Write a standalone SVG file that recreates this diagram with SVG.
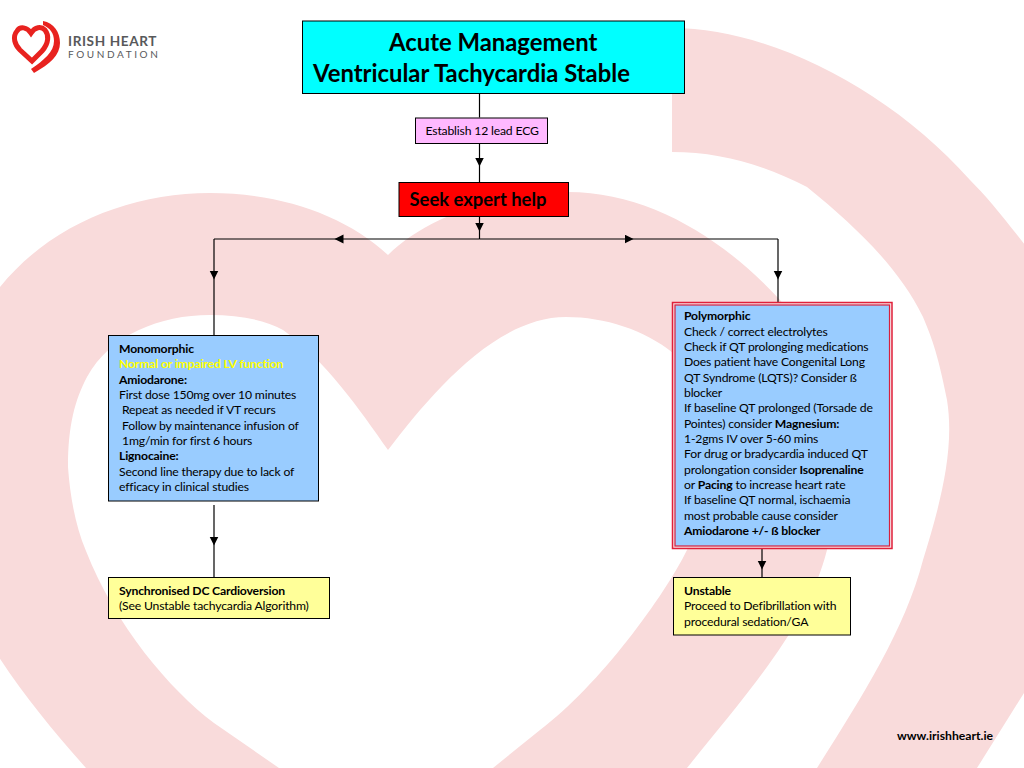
<svg xmlns="http://www.w3.org/2000/svg" width="1024" height="768" viewBox="0 0 1024 768">
<style>
text{font-family:"Lato","Noto Sans",sans-serif;fill:#000}
.t{font-size:12.2px;letter-spacing:-.17px;transform:translateY(.3px)}
.b{font-weight:700}
.box{stroke:#000;stroke-width:1}
.blue{fill:#99CCFF}
.yel{fill:#FFFF99}
.wire{fill:none;stroke:#000;stroke-width:1.2;marker-mid:url(#a)}
.bg{fill:#F9DBDB}
</style>
<defs>
<marker id="a" markerUnits="userSpaceOnUse" markerWidth="10" markerHeight="10" refX="8.5" refY="4.5" orient="auto">
<path d="M0 0L9 4.5L0 9Z" fill="#000"/>
</marker>
</defs>
<rect width="1024" height="768" fill="#fff"/>
<g id="background">
<path class="bg" fill-rule="evenodd" d="M388 255C425 218 495 192 568 192C650 192 725 240 780 300C835 365 850 450 827 550C808 625 750 690 687 768L640 830L130 830L86 768C30 705 -30 630 -51 550C-70 450 -45 350 0 287C50 225 130 193 210 193C280 193 345 215 388 255ZM388 450C430 395 495 317 566 317C605 317 645 330 673 353C700 385 712 440 708 480C705 510 698 530 687 550C665 595 600 685 540 730L493 768L460 800L310 800L279 768L214 723C170 690 115 625 86 551C75 525 70 495 68 467C68 425 75 400 87 377C110 335 160 315 210 315C240 315 265 320 283 330C325 360 360 410 388 450Z"/>
<path class="bg" d="M672 28C770 28 890 90 970 180C990 200 1010 225 1040 265L1100 400L1060 640L1024 693L977 768L817 768C860 700 905 630 923 560C940 505 955 450 947 400C940 365 935 345 923 317C900 270 860 230 807 187C765 165 720 152 672 152Z"/>
</g>
<g id="logo">
<path d="M31 33C27 27 20 26 17 31C12 37 15 45 20 50L32 61L42 51C49 43 49 35 45 30C41 26 35 27 31 33Z" fill="none" stroke="#E8221F" stroke-width="5"/>
<path d="M43 21C54 23 60 32 60 43C60 55 50 64 34 73L31 69C44 60 54 52 54 41C54 33 50 28 43 25Z" fill="#E8221F"/>
<text x="68" y="46" font-size="13.6" font-weight="700" letter-spacing=".6" style="fill:#58595B">IRISH HEART</text>
<text x="68" y="58" font-size="10" letter-spacing="2.6" style="fill:#58595B">FOUNDATION</text>
</g>
<g id="connectors">
<path class="wire" d="M479.5 93.5V117.5"/>
<path class="wire" d="M479.5 143.5L479.5 166L479.5 182"/>
<path class="wire" d="M479.5 217L479.5 231L479.5 239"/>
<path class="wire" d="M479.5 239L335 239L214 239"/>
<path class="wire" d="M479.5 239L633 239L778 239"/>
<path class="wire" d="M214 239L214 279L214 335"/>
<path class="wire" d="M778 239L778 279L778 302"/>
<path class="wire" d="M214 505L214 545L214 577"/>
<path class="wire" d="M762 549L762 569L762 577"/>
</g>
<g id="title">
<rect class="box" x="302.5" y="21" width="382" height="72.5" fill="#00FFFF"/>
<text class="b" x="389" y="50.5" font-size="23.85">Acute Management</text>
<text class="b" x="313" y="81.5" font-size="23.85">Ventricular Tachycardia Stable</text>
</g>
<g id="ecg">
<rect class="box" x="415.5" y="118" width="132" height="25.5" fill="#FFB9FF"/>
<text class="t" x="425.5" y="135">Establish 12 lead ECG</text>
</g>
<g id="help">
<rect class="box" x="399" y="182.5" width="169.5" height="34" fill="#FF0000"/>
<text class="b" x="409.5" y="206" font-size="18.4">Seek expert help</text>
</g>
<g id="monomorphic">
<rect class="box blue" x="108.5" y="335.5" width="210" height="165.5"/>
<text class="t b" x="119" y="352.5">Monomorphic</text>
<text class="t b" x="119" y="368" style="fill:#FFFF00">Normal or impaired LV function</text>
<text class="t b" x="119" y="383.3">Amiodarone:</text>
<text class="t" x="119" y="398.7">First dose 150mg over 10 minutes</text>
<text class="t" x="122" y="414">Repeat as needed if VT recurs</text>
<text class="t" x="122" y="429.4">Follow by maintenance infusion of</text>
<text class="t" x="122" y="444.7">1mg/min for first 6 hours</text>
<text class="t b" x="119" y="460">Lignocaine:</text>
<text class="t" x="119" y="475.4">Second line therapy due to lack of</text>
<text class="t" x="119" y="490.7">efficacy in clinical studies</text>
</g>
<g id="cardioversion">
<rect class="box yel" x="108.5" y="577.5" width="221" height="41"/>
<text class="t b" x="119" y="594.5">Synchronised DC Cardioversion</text>
<text class="t" x="119" y="610">(See Unstable tachycardia Algorithm)</text>
</g>
<g id="polymorphic">
<rect x="672.5" y="302.5" width="219.5" height="246" fill="#F7E3E6" stroke="#E0203A" stroke-width="1.5"/>
<rect x="675" y="305" width="214.5" height="241" class="blue" stroke="#D81F3C" stroke-width="1.2"/>
<text class="t b" x="684" y="320">Polymorphic</text>
<text class="t" x="684" y="335.4">Check / correct electrolytes</text>
<text class="t" x="684" y="350.7">Check if QT prolonging medications</text>
<text class="t" x="684" y="366">Does patient have Congenital Long</text>
<text class="t" x="684" y="381.4">QT Syndrome (LQTS)? Consider ß</text>
<text class="t" x="684" y="396.7">blocker</text>
<text class="t" x="684" y="412.1">If baseline QT prolonged (Torsade de</text>
<text class="t" x="684" y="427.4">Pointes) consider <tspan class="b">Magnesium:</tspan></text>
<text class="t" x="684" y="442.8">1-2gms IV over 5-60 mins</text>
<text class="t" x="684" y="458.1">For drug or bradycardia induced QT</text>
<text class="t" x="684" y="473.5">prolongation consider <tspan class="b">Isoprenaline</tspan></text>
<text class="t" x="684" y="488.8">or <tspan class="b">Pacing</tspan> to increase heart rate</text>
<text class="t" x="684" y="504.2">If baseline QT normal, ischaemia</text>
<text class="t" x="684" y="519.5">most probable cause consider</text>
<text class="t b" x="684" y="534.9">Amiodarone +/- ß blocker</text>
</g>
<g id="unstable">
<rect class="box yel" x="673.5" y="577.5" width="177" height="57.5"/>
<text class="t b" x="684" y="594.5">Unstable</text>
<text class="t" x="684" y="610">Proceed to Defibrillation with</text>
<text class="t" x="684" y="625.3">procedural sedation/GA</text>
</g>
<g id="footer">
<text class="b" x="897" y="739.5" font-size="12.2">www.irishheart.ie</text>
</g>
</svg>
